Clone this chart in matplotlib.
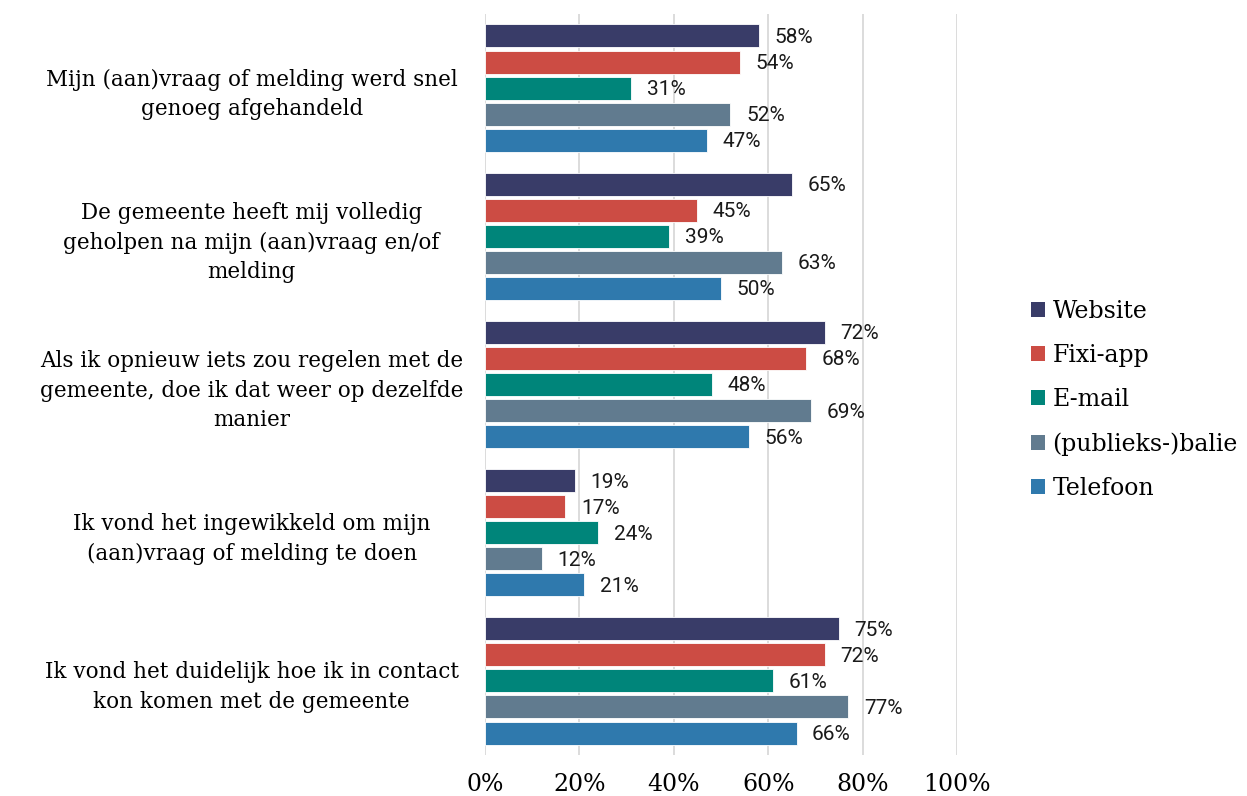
import numpy as np
import matplotlib.pyplot as plt
from matplotlib.patches import Patch

questions = [
    "Mijn (aan)vraag of melding werd snel\ngenoeg afgehandeld",
    "De gemeente heeft mij volledig\ngeholpen na mijn (aan)vraag en/of\nmelding",
    "Als ik opnieuw iets zou regelen met de\ngemeente, doe ik dat weer op dezelfde\nmanier",
    "Ik vond het ingewikkeld om mijn\n(aan)vraag of melding te doen",
    "Ik vond het duidelijk hoe ik in contact\nkon komen met de gemeente",
]
channels = ["Website", "Fixi-app", "E-mail", "(publieks-)balie", "Telefoon"]
website = [58, 65, 72, 19, 75]
fixi = [54, 45, 68, 17, 72]
email = [31, 39, 48, 24, 61]
balie = [52, 63, 69, 12, 77]
telefoon = [47, 50, 56, 21, 66]
series = [website, fixi, email, balie, telefoon]
colors = ["#393c68", "#cc4c44", "#00857a", "#617b8f", "#2f79ad"]

serif = "DejaVu Serif"

fig = plt.figure(figsize=(12.47, 7.96), dpi=100)
ax = fig.add_axes([485 / 1247, 1 - 755 / 796, (957 - 485) / 1247, 741 / 796])

step = 0.176
height = 0.155
group_pos = np.arange(len(questions))
for i, (vals, col) in enumerate(zip(series, colors)):
    y = group_pos + (i - 2) * step
    ax.barh(y, vals, height=height, color=col, zorder=3, edgecolor="white", linewidth=0.6)
    for yy, v in zip(y, vals):
        ax.text(v + 3.3, yy + 0.01, f"{v}%", va="center", ha="left",
                fontsize=15, family="Roboto", color="#1a1a1a")

ax.set_xlim(0, 100)
ax.set_ylim(len(questions) - 0.5, -0.5)
ax.set_xticks(np.arange(0, 101, 20))
ax.set_xticklabels([f"{t}%" for t in range(0, 101, 20)], family=serif, fontsize=17)
ax.tick_params(axis="x", length=0, pad=13)
ax.set_yticks(group_pos)
ax.set_yticklabels(questions, family=serif, fontsize=15.5, ha="center", linespacing=1.45)
ax.tick_params(axis="y", length=0, pad=168)
ax.grid(axis="x", color="#d9d9d9", linewidth=1.3, zorder=0)
for s in ax.spines.values():
    s.set_visible(False)

handles = [Patch(facecolor=c, label=l) for l, c in zip(channels, colors)]
fig.legend(handles=handles, loc="center left", bbox_to_anchor=(1010 / 1247, 1 - 400 / 796),
           frameon=False, prop={"family": serif, "size": 17},
           handlelength=0.6, handleheight=0.6, handletextpad=0.3, labelspacing=0.9)

fig.savefig("out.png", dpi=100)
